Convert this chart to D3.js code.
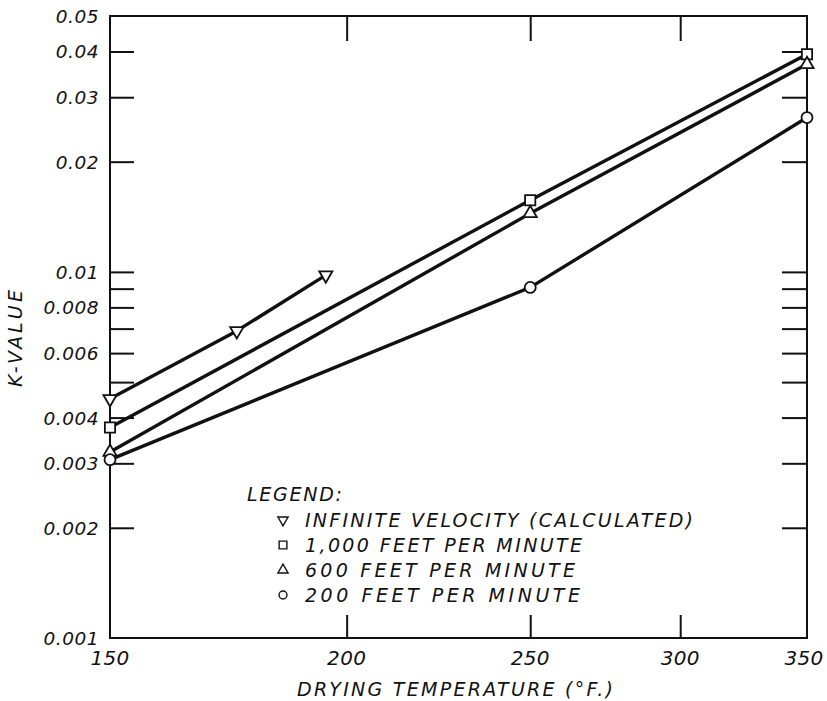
<!DOCTYPE html>
<html>
<head>
<meta charset="utf-8">
<script src="https://cdn.jsdelivr.net/npm/d3@7"></script>
<style>
  html, body { margin: 0; padding: 0; background: #fff; }
  svg { display: block; }
  text { font-family: "DejaVu Sans", "Liberation Sans", sans-serif; font-style: italic; fill: #111; }
</style>
</head>
<body>
<svg id="chart" width="827" height="701"></svg>
<script>
// ---- data ----
const xLabelTemps = [150, 200, 250, 300, 350];
const xInnerTicks = [200, 250, 300];
const yTickValues = [0.002, 0.003, 0.004, 0.005, 0.006, 0.007, 0.008, 0.009, 0.01, 0.02, 0.03, 0.04];
const yLabelValues = [0.001, 0.002, 0.003, 0.004, 0.006, 0.008, 0.01, 0.02, 0.03, 0.04, 0.05];
const yLabelTexts = ["0.001", "0.002", "0.003", "0.004", "0.006", "0.008", "0.01", "0.02", "0.03", "0.04", "0.05"];

const infiniteTemps = [150, 175, 195];
const infiniteK = [0.0045, 0.0069, 0.0098];
const runTemps = [150, 250, 350];
const k1000 = [0.00376, 0.0157, 0.0393];
const k600 = [0.00322, 0.01445, 0.0369];
const k200 = [0.00307, 0.00907, 0.0264];

const legendLabels = [
  "INFINITE VELOCITY (CALCULATED)",
  "1,000 FEET PER MINUTE",
  "600 FEET PER MINUTE",
  "200 FEET PER MINUTE"
];
const legendTitle = "LEGEND:";
const xTitle = "DRYING TEMPERATURE (°F.)";
const yTitle = "K-VALUE";

// ---- layout ----
const svg = d3.select("#chart");
const L = 110, R = 807, T = 16, B = 638;
const x = d3.scaleLog().domain([150, 350]).range([L, R]);
const y = d3.scaleLog().domain([0.001, 0.05]).range([B, T]);
const ink = "#111";

// frame
svg.append("rect").attr("x", L).attr("y", T).attr("width", R - L).attr("height", B - T)
  .attr("fill", "none").attr("stroke", ink).attr("stroke-width", 2);

function styleAxis(g) {
  g.select(".domain").remove();
  g.selectAll(".tick line").attr("stroke", ink).attr("stroke-width", 2);
  g.selectAll(".tick text").remove();
}
svg.append("g").attr("transform", `translate(${L},0)`)
  .call(d3.axisLeft(y).tickValues(yTickValues).tickSize(-24)).call(styleAxis);
svg.append("g").attr("transform", `translate(${R},0)`)
  .call(d3.axisRight(y).tickValues(yTickValues).tickSize(-25)).call(styleAxis);
svg.append("g").attr("transform", `translate(0,${T})`)
  .call(d3.axisTop(x).tickValues(xInnerTicks).tickSize(-25)).call(styleAxis);
svg.append("g").attr("transform", `translate(0,${B})`)
  .call(d3.axisBottom(x).tickValues(xInnerTicks).tickSize(-23)).call(styleAxis);

// y tick labels
svg.append("g").selectAll("text").data(yLabelValues).join("text")
  .attr("x", 99).attr("y", d => y(d) + 7)
  .attr("text-anchor", "end")
  .attr("font-size", 18.5).attr("letter-spacing", 0.5)
  .text((d, i) => yLabelTexts[i]);

// x tick labels
svg.append("g").selectAll("text").data(xLabelTemps).join("text")
  .attr("x", d => x(d) - (d === 350 ? 3 : 0)).attr("y", 665)
  .attr("text-anchor", "middle")
  .attr("font-size", 20).attr("letter-spacing", 0.3)
  .text(d => String(d));

// axis titles
svg.append("text").attr("x", 297).attr("y", 696)
  .attr("font-size", 19).attr("textLength", 316).attr("lengthAdjust", "spacing")
  .text(xTitle);
svg.append("text").attr("transform", "translate(22,387) rotate(-90)")
  .attr("font-size", 19).attr("textLength", 97).attr("lengthAdjust", "spacing")
  .text(yTitle);

// series
const line = d3.line().x(d => x(d[0])).y(d => y(d[1]));
const series = [
  { temps: infiniteTemps, k: infiniteK, sym: d3.symbolTriangle, rot: 180, size: 75 },
  { temps: runTemps, k: k1000, sym: d3.symbolSquare, rot: 0, size: 105 },
  { temps: runTemps, k: k600, sym: d3.symbolTriangle, rot: 0, size: 75 },
  { temps: runTemps, k: k200, sym: d3.symbolCircle, rot: 0, size: 95 }
];
series.forEach(s => {
  const pts = s.temps.map((t, i) => [t, s.k[i]]);
  svg.append("path").datum(pts).attr("d", line)
    .attr("fill", "none").attr("stroke", ink).attr("stroke-width", 3.4)
    .attr("stroke-linejoin", "round");
});
series.forEach(s => {
  const pts = s.temps.map((t, i) => [t, s.k[i]]);
  svg.append("g").selectAll("path").data(pts).join("path")
    .attr("d", d3.symbol().type(s.sym).size(s.size))
    .attr("transform", d => `translate(${x(d[0])},${y(d[1])}) rotate(${s.rot})`)
    .attr("fill", "#fff").attr("stroke", ink).attr("stroke-width", 1.8);
});

// legend
svg.append("text").attr("x", 247).attr("y", 501)
  .attr("font-size", 19).attr("textLength", 95).attr("lengthAdjust", "spacing")
  .text(legendTitle);
const legendRowY = [520, 545, 570, 595];
const legendEnds = [693, 582, 575, 580];
const legendSizes = [45, 60, 45, 50];
legendLabels.forEach((lab, i) => {
  const s = series[i];
  svg.append("path")
    .attr("d", d3.symbol().type(s.sym).size(legendSizes[i]))
    .attr("transform", `translate(283,${legendRowY[i]}) rotate(${s.rot})`)
    .attr("fill", "#fff").attr("stroke", ink).attr("stroke-width", 1.4);
  svg.append("text").attr("x", 305).attr("y", legendRowY[i] + 7)
    .attr("font-size", 19).attr("textLength", legendEnds[i] - 305).attr("lengthAdjust", "spacing")
    .text(lab);
});
</script>
</body>
</html>
